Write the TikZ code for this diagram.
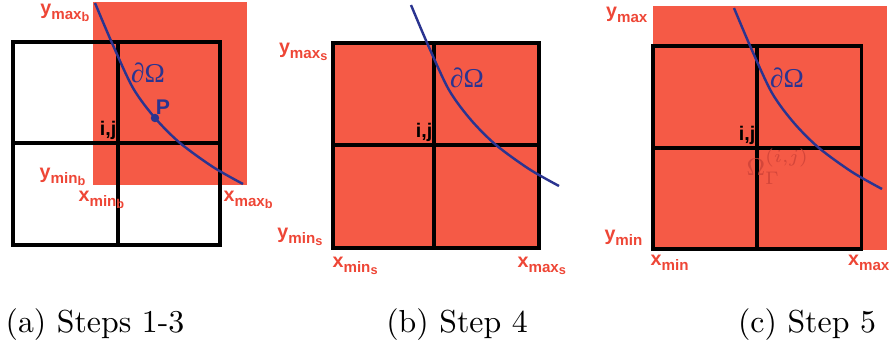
\documentclass[tikz,border=0pt]{standalone}
\usepackage{fontspec}
\newfontfamily\lblfont{Liberation Sans}
\newfontfamily\symfont{Liberation Serif}
\usetikzlibrary{positioning,calc}
\definecolor{cellred}{HTML}{F55A46}
\definecolor{lblred}{HTML}{EE4636}
\definecolor{bndblue}{HTML}{2A3490}
\definecolor{gamred}{HTML}{D4463A}
% subscripts of the limit labels
\newcommand\limsub[1]{\raisebox{-0.45ex}{\fontsize{5}{5}\selectfont #1}}
\newcommand\limsubsub[1]{\raisebox{-0.35ex}{\fontsize{4.2}{4.2}\selectfont #1}}
\tikzset{
  gridline/.style={line width=1pt, black},
  redbox/.style={fill=cellred},
  bndline/.style={bndblue, line width=0.8pt},
  bndlabel/.style={text=bndblue, font=\symfont\fontsize{9}{9}\selectfont, inner sep=0pt},
  limlabel/.style={text=lblred, font=\lblfont\bfseries\fontsize{6.5}{7}\selectfont, inner sep=0pt},
  ijlabel/.style={font=\lblfont\bfseries\fontsize{6.5}{7}\selectfont, inner sep=0pt},
  subcaption/.style={font=\fontsize{10.5}{12}\selectfont, inner sep=0pt},
  boundary/.pic={
    \draw[bndline] plot[smooth] coordinates {(-23,-140) (-6,-100) (15,-55) (37,-25) (62,0) (95,24) (125,41)};
  },
}

\begin{document}
\begin{tikzpicture}[x=0.33pt, y=-0.33pt]
  \useasboundingbox (0,0) rectangle (892,356);
  % (a) Steps 1-3
  \fill[redbox] (93,2) rectangle (247,185);
  \draw[gridline] (13,42) rectangle (220,245);
  \draw[gridline] (118,42) -- (118,245);
  \draw[gridline] (13,143) -- (220,143);
  \coordinate (ija) at (118,143);
  \pic at (ija) {boundary};
  \node[circle, fill=bndblue, inner sep=0pt, minimum size=2.8pt] (P) at (155,118) {};
  \node[text=bndblue, font=\lblfont\bfseries\fontsize{7}{7}\selectfont, inner sep=0pt] (plbl) at (163,107) {P};
  \node[bndlabel] (doma) at ($(ija)+(30,-70)$) {∂Ω};
  \node[ijlabel, anchor=south east] (ijtxta) at ($(ija)+(-1,-3)$) {i,j};
  \node[limlabel, anchor=east] (ymaxa) at (90,13) {y\limsub{max\limsubsub{b}}};
  \node[limlabel, anchor=east] (ymina) at (86,177) {y\limsub{min\limsubsub{b}}};
  \node[limlabel, anchor=west] (xmina) at (78,200) {x\limsub{min\limsubsub{b}}};
  \node[limlabel, anchor=west] (xmaxa) at (223,200) {x\limsub{max\limsubsub{b}}};
  \node[subcaption] (capa) at (95,325) {(a) Steps 1-3};
  % (b) Step 4
  \fill[redbox] (333,43) rectangle (539,248);
  \draw[gridline] (333,43) rectangle (539,248);
  \draw[gridline] (434,43) -- (434,248);
  \draw[gridline] (333,145) -- (539,145);
  \coordinate (ijb) at (434,145);
  \pic at (ijb) {boundary};
  \node[bndlabel] (domb) at ($(ijb)+(33,-67)$) {∂Ω};
  \node[ijlabel, anchor=south east] (ijtxtb) at ($(ijb)+(-1,-3)$) {i,j};
  \node[limlabel, anchor=east] (ymaxb) at (328,52) {y\limsub{max\limsubsub{s}}};
  \node[limlabel, anchor=east] (yminb) at (323,237) {y\limsub{min\limsubsub{s}}};
  \node[limlabel, anchor=west] (xminb) at (332,266) {x\limsub{min\limsubsub{s}}};
  \node[limlabel, anchor=west] (xmaxb) at (517,266) {x\limsub{max\limsubsub{s}}};
  \node[subcaption] (capb) at (457,325) {(b) Step 4};
  % (c) Step 5
  \fill[redbox] (653,6) rectangle (887,250);
  \draw[gridline] (653,46) rectangle (861,249);
  \draw[gridline] (757,46) -- (757,249);
  \draw[gridline] (653,148) -- (861,148);
  \coordinate (ijc) at (757,148);
  \pic at (ijc) {boundary};
  \node[bndlabel] (domc) at ($(ijc)+(30,-70)$) {∂Ω};
  \node[ijlabel, anchor=south east] (ijtxtc) at ($(ijc)+(-1,-3)$) {i,j};
  \node[text=gamred, font=\fontsize{8.5}{9}\selectfont, inner sep=0pt] (gam) at (778,167) {$\Omega_\Gamma^{(i,j)}$};
  \node[limlabel, anchor=east] (ymaxc) at (648,15) {y\limsub{max}};
  \node[limlabel, anchor=east] (yminc) at (643,238) {y\limsub{min}};
  \node[limlabel, anchor=west] (xminc) at (650,263) {x\limsub{min}};
  \node[limlabel, anchor=east] (xmaxc) at (890,263) {x\limsub{max}};
  \node[subcaption] (capc) at (807,325) {(c) Step 5};
\end{tikzpicture}
\end{document}
